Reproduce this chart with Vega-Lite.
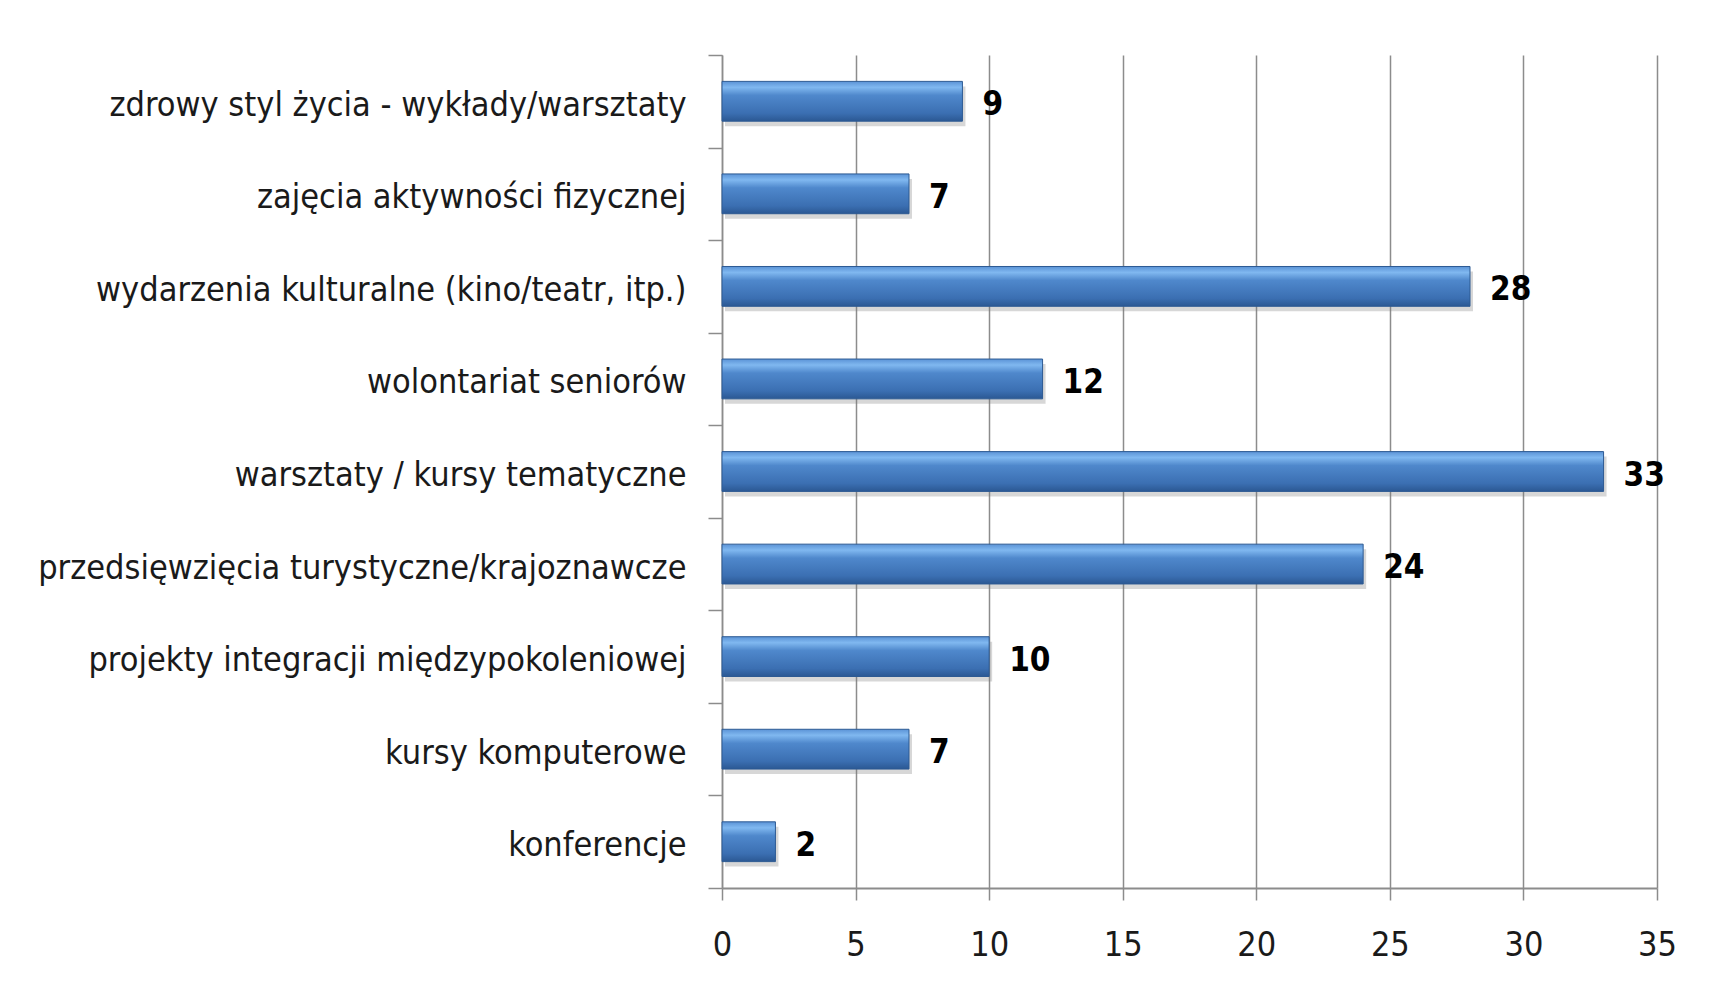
{
  "$schema": "https://vega.github.io/schema/vega-lite/v6.json",
  "autosize": {"type": "none"},
  "width": 935,
  "height": 833,
  "padding": {"left": 722, "top": 55, "right": 66, "bottom": 106},
  "background": "white",
  "config": {
    "view": {"stroke": null},
    "font": "DejaVu Sans Condensed"
  },
  "data": {
    "values": [
      {"kategoria": "zdrowy styl życia - wykłady/warsztaty", "liczba": 9},
      {"kategoria": "zajęcia aktywności fizycznej", "liczba": 7},
      {"kategoria": "wydarzenia kulturalne (kino/teatr, itp.)", "liczba": 28},
      {"kategoria": "wolontariat seniorów", "liczba": 12},
      {"kategoria": "warsztaty / kursy tematyczne", "liczba": 33},
      {"kategoria": "przedsięwzięcia turystyczne/krajoznawcze", "liczba": 24},
      {"kategoria": "projekty integracji międzypokoleniowej", "liczba": 10},
      {"kategoria": "kursy komputerowe", "liczba": 7},
      {"kategoria": "konferencje", "liczba": 2}
    ]
  },
  "encoding": {
    "y": {
      "field": "kategoria",
      "type": "nominal",
      "sort": null,
      "scale": {"paddingInner": 0, "paddingOuter": 0},
      "axis": {
        "title": null,
        "tickBand": "extent",
        "domainColor": "#8c8c8c",
        "domainWidth": 1.5,
        "tickColor": "#8c8c8c",
        "tickWidth": 1.5,
        "tickSize": 14,
        "labelPadding": 22,
        "labelOffset": 4,
        "labelFont": "DejaVu Sans Condensed",
        "labelFontSize": 34,
        "labelColor": "#1a1a1a",
        "labelLimit": 800,
        "grid": false
      }
    },
    "x": {
      "field": "liczba",
      "type": "quantitative",
      "scale": {"domain": [0, 35], "nice": false},
      "axis": {
        "title": null,
        "values": [0, 5, 10, 15, 20, 25, 30, 35],
        "grid": true,
        "gridColor": "#8c8c8c",
        "gridWidth": 1.5,
        "domainColor": "#8c8c8c",
        "domainWidth": 2,
        "tickColor": "#8c8c8c",
        "tickWidth": 1.5,
        "tickSize": 12,
        "labelPadding": 28,
        "labelFlush": false,
        "labelFont": "DejaVu Sans Condensed",
        "labelFontSize": 34,
        "labelColor": "#1a1a1a"
      }
    }
  },
  "layer": [
    {
      "mark": {"type": "bar", "color": "#7a7a7a", "opacity": 0.3, "yOffset": 5, "xOffset": 3, "height": {"band": 0.43}}
    },
    {
      "mark": {
        "type": "bar",
        "height": {"band": 0.43},
        "stroke": "#2d5a93",
        "strokeWidth": 1,
        "color": {
          "gradient": "linear",
          "x1": 0, "y1": 0, "x2": 0, "y2": 1,
          "stops": [
            {"offset": 0, "color": "#5b93d6"},
            {"offset": 0.15, "color": "#80b8f0"},
            {"offset": 0.35, "color": "#4f88cc"},
            {"offset": 0.8, "color": "#3b6fb2"},
            {"offset": 1, "color": "#2b5893"}
          ]
        }
      }
    },
    {
      "mark": {
        "type": "text",
        "align": "left",
        "baseline": "middle",
        "dx": 20,
        "dy": 4,
        "font": "DejaVu Sans Condensed",
        "fontSize": 33,
        "fontWeight": "bold",
        "color": "#000000"
      },
      "encoding": {"text": {"field": "liczba", "type": "quantitative"}}
    }
  ]
}
